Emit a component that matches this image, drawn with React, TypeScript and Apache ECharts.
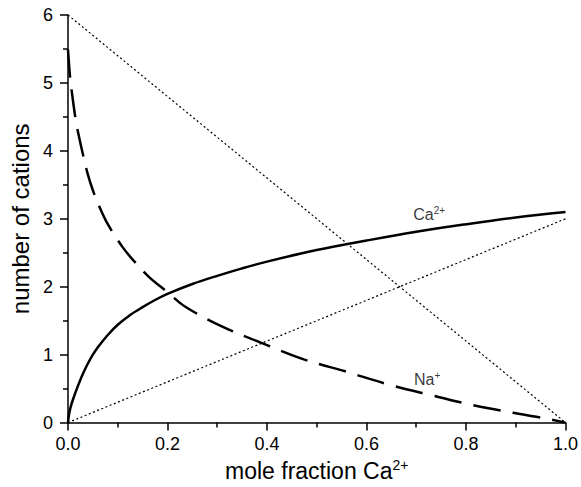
import React, { useEffect, useRef } from "react";
import * as echarts from "echarts";

const caX = [0, 0.002, 0.005, 0.01, 0.02, 0.03, 0.04, 0.05, 0.06, 0.08, 0.1, 0.125, 0.15, 0.175, 0.2, 0.25, 0.3, 0.35, 0.4, 0.5, 0.6, 0.7, 0.8, 0.9, 1.0];
const caY = [0, 0.12, 0.22, 0.34, 0.54, 0.72, 0.87, 1.0, 1.11, 1.29, 1.44, 1.585, 1.7, 1.805, 1.895, 2.04, 2.16, 2.27, 2.37, 2.54, 2.68, 2.81, 2.92, 3.02, 3.1];

const naX = [0, 0.004, 0.008, 0.0165, 0.023, 0.03, 0.04, 0.05, 0.063, 0.08, 0.109, 0.13, 0.162, 0.2, 0.235, 0.308, 0.39, 0.474, 0.557, 0.64, 0.726, 0.812, 0.898, 0.95, 1.0];
const naY = [5.49, 5.1, 4.85, 4.41, 4.18, 3.95, 3.65, 3.42, 3.18, 2.92, 2.59, 2.4, 2.15, 1.92, 1.71, 1.42, 1.17, 0.93, 0.755, 0.57, 0.41, 0.26, 0.14, 0.075, 0];

const naIdealX = [0, 1];
const naIdealY = [6, 0];
const caIdealX = [0, 1];
const caIdealY = [0, 3];

const xTicks = { min: 0, max: 1, interval: 0.2 };
const yTicks = { min: 0, max: 6, interval: 1 };

const caLabelPos = [0.726, 3.06];
const naLabelPos = [0.722, 0.63];

const FONT = "'Liberation Sans', Arial, Helvetica, sans-serif";

const zip = (xs: number[], ys: number[]) => xs.map((x, i) => [x, ys[i]]);

export default function App() {
  const ref = useRef<HTMLDivElement>(null);
  useEffect(() => {
    if (!ref.current) return;
    const chart = echarts.init(ref.current, undefined, { renderer: "svg" });
    const richSup = {
      b: { fontSize: 16, fontFamily: FONT, color: "#000", lineHeight: 18 },
      s: { fontSize: 10, fontFamily: FONT, color: "#000", verticalAlign: "top", lineHeight: 18, padding: [0, 0, 6, 0] },
    };
    chart.setOption({
      animation: false,
      backgroundColor: "#fff",
      grid: { left: 65, right: 13, top: 15, bottom: 64 },
      xAxis: {
        type: "value",
        min: xTicks.min,
        max: xTicks.max,
        interval: xTicks.interval,
        name: "{b|mole fraction Ca}{s|2+}",
        nameLocation: "middle",
        nameGap: 31,
        nameTextStyle: {
          rich: {
            b: { fontSize: 23, fontFamily: FONT, color: "#000", lineHeight: 26 },
            s: { fontSize: 14, fontFamily: FONT, color: "#000", verticalAlign: "top", lineHeight: 26, padding: [0, 0, 9, 0] },
          },
        },
        axisLine: { show: true, lineStyle: { color: "#000", width: 1.5 } },
        axisTick: { show: true, inside: false, length: 8, lineStyle: { color: "#000", width: 1.5 } },
        minorTick: { show: true, splitNumber: 2, length: 5, lineStyle: { color: "#000", width: 1.5 } },
        splitLine: { show: false },
        minorSplitLine: { show: false },
        axisLabel: {
          fontSize: 18,
          fontFamily: FONT,
          color: "#000",
          margin: 12,
          formatter: (v: number) => v.toFixed(1),
        },
      },
      yAxis: {
        type: "value",
        min: yTicks.min,
        max: yTicks.max,
        interval: yTicks.interval,
        name: "number of cations",
        nameLocation: "middle",
        nameGap: 36,
        nameTextStyle: { fontSize: 24, fontFamily: FONT, color: "#000" },
        axisLine: { show: true, lineStyle: { color: "#000", width: 1.5 } },
        axisTick: { show: true, inside: false, length: 8, lineStyle: { color: "#000", width: 1.5 } },
        minorTick: { show: true, splitNumber: 2, length: 5, lineStyle: { color: "#000", width: 1.5 } },
        splitLine: { show: false },
        minorSplitLine: { show: false },
        axisLabel: { fontSize: 18, fontFamily: FONT, color: "#000", margin: 15 },
      },
      series: [
        {
          type: "line",
          data: zip(naIdealX, naIdealY),
          showSymbol: false,
          lineStyle: { color: "#000", width: 1.2, type: [2, 2.5] },
        },
        {
          type: "line",
          data: zip(caIdealX, caIdealY),
          showSymbol: false,
          lineStyle: { color: "#000", width: 1.2, type: [2, 2.5] },
        },
        {
          type: "line",
          data: zip(caX, caY),
          showSymbol: false,
          smooth: 0.35,
          lineStyle: { color: "#000", width: 2.5 },
        },
        {
          type: "line",
          data: zip(naX, naY),
          showSymbol: false,
          smooth: 0.35,
          lineStyle: { color: "#000", width: 2.5, type: [28, 12] },
        },
        {
          type: "scatter",
          symbolSize: 0,
          data: [caLabelPos, naLabelPos],
          label: {
            show: true,
            position: "inside",
            formatter: (p: any) => (p.dataIndex === 0 ? "{b|Ca}{s|2+}" : "{b|Na}{s|+}"),
            rich: richSup,
          },
        },
      ],
    });
    return () => chart.dispose();
  }, []);
  return (
    <div
      ref={ref}
      style={{ position: "absolute", left: 0, top: 0, width: 581, height: 487 }}
    />
  );
}
